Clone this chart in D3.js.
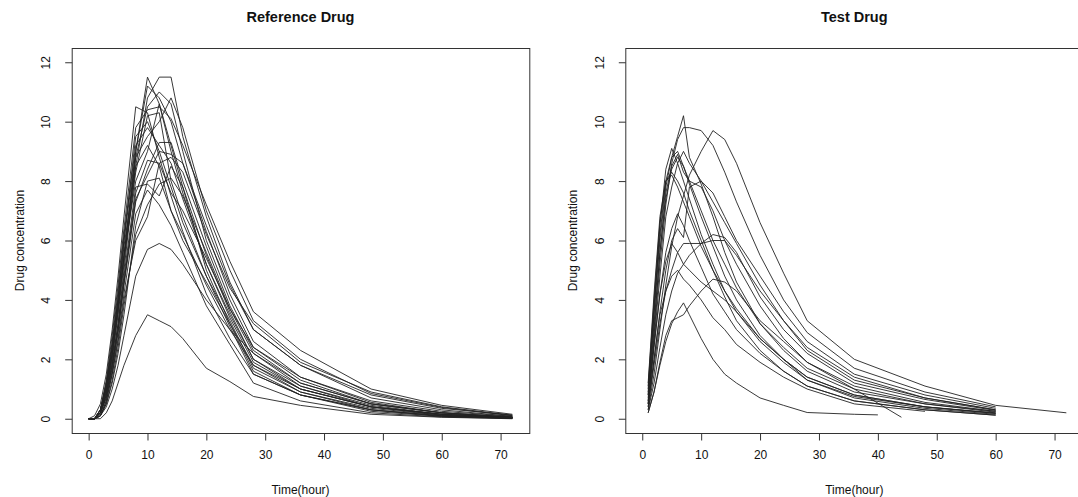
<!DOCTYPE html>
<html>
<head>
<meta charset="utf-8">
<script src="https://cdn.jsdelivr.net/npm/d3@7"></script>
<style>
  body { margin: 0; background: #fff; }
  text { font-family: "Liberation Sans", Arial, sans-serif; fill: #111; }
</style>
</head>
<body>
<script>
var width = 1078;
var height = 497;

// sampling times (hours)
var refTimes = [0, 1, 2, 3, 4, 5, 6, 8, 10, 12, 14, 16, 20, 24, 28, 36, 48, 60, 72];
var testTimes = [1, 2, 3, 4, 5, 6, 7, 8, 10, 12, 14, 16, 20, 24, 28, 36, 40, 44, 48, 60, 72];

var xTicks = [0, 10, 20, 30, 40, 50, 60, 70];
var yTicks = [0, 2, 4, 6, 8, 10, 12];

// concentrations per subject, Reference drug
var refConc = [
  [0, 0, 0.3, 1.0, 2.2, 3.8, 5.5, 9.0, 11.5, 10.6, 9.0, 7.6, 5.2, 3.5, 2.0, 1.1, 0.4, 0.15, 0.05],
  [0, 0, 0.2, 0.8, 1.8, 3.2, 5.0, 8.5, 10.8, 11.5, 11.5, 9.5, 6.8, 4.6, 3.0, 1.8, 0.8, 0.35, 0.12],
  [0, 0.1, 0.5, 1.5, 3.0, 4.8, 6.8, 10.5, 10.3, 8.8, 7.5, 6.3, 4.2, 2.7, 1.5, 0.8, 0.3, 0.1, 0.03],
  [0, 0, 0.1, 0.5, 1.2, 2.2, 3.5, 6.5, 8.0, 8.1, 7.0, 6.2, 4.5, 3.0, 1.8, 1.0, 0.4, 0.15, 0.05],
  [0, 0, 0, 0.2, 0.6, 1.2, 1.8, 2.8, 3.5, 3.3, 3.1, 2.7, 1.7, 1.25, 0.75, 0.45, 0.15, 0.05, 0.0],
  [0, 0, 0.2, 0.9, 2.0, 3.5, 5.2, 8.8, 10.5, 11.0, 10.6, 9.0, 6.0, 4.0, 2.4, 1.3, 0.5, 0.2, 0.05],
  [0, 0, 0.3, 1.2, 2.5, 4.0, 5.8, 8.5, 9.2, 8.5, 7.0, 6.0, 4.6, 3.2, 1.6, 0.8, 0.25, 0.08, 0.02],
  [0, 0, 0.1, 0.6, 1.5, 2.6, 4.0, 6.0, 6.8, 8.6, 8.8, 8.3, 6.2, 4.4, 3.2, 1.9, 0.9, 0.4, 0.12],
  [0, 0, 0.2, 0.7, 1.6, 2.9, 4.5, 7.3, 8.4, 9.3, 9.3, 8.0, 5.8, 3.8, 2.3, 1.2, 0.5, 0.2, 0.05],
  [0, 0, 0.3, 1.1, 2.4, 4.0, 6.0, 9.5, 10.0, 9.0, 7.8, 6.6, 4.8, 3.3, 1.7, 0.9, 0.35, 0.12, 0.03],
  [0, 0, 0.1, 0.4, 1.0, 1.8, 2.8, 4.8, 5.7, 5.9, 5.7, 5.2, 4.0, 3.0, 2.2, 1.2, 0.5, 0.2, 0.05],
  [0, 0, 0.2, 0.8, 1.9, 3.2, 4.8, 7.8, 7.9, 7.5, 8.5, 7.8, 5.5, 3.6, 2.0, 1.0, 0.4, 0.15, 0.04],
  [0, 0, 0.3, 1.0, 2.2, 3.8, 5.5, 8.0, 9.0, 10.6, 9.2, 7.8, 5.0, 3.2, 1.8, 0.9, 0.3, 0.1, 0.02],
  [0, 0, 0.2, 0.9, 2.1, 3.6, 5.4, 8.3, 10.2, 10.3, 8.0, 6.8, 4.8, 3.1, 1.5, 0.8, 0.3, 0.08, 0.02],
  [0, 0, 0.3, 1.3, 2.8, 4.5, 6.4, 9.8, 10.4, 10.5, 10.1, 9.2, 7.2, 5.3, 3.6, 2.3, 1.0, 0.45, 0.15],
  [0, 0, 0.1, 0.6, 1.5, 2.7, 4.2, 6.9, 7.7, 7.2, 6.5, 5.6, 3.8, 2.5, 1.2, 0.6, 0.2, 0.06, 0.01],
  [0, 0, 0.2, 0.8, 1.8, 3.0, 4.6, 7.4, 8.2, 9.0, 8.9, 8.6, 6.5, 4.5, 3.0, 1.8, 0.7, 0.3, 0.08],
  [0, 0, 0.3, 1.1, 2.4, 4.1, 6.0, 9.0, 11.2, 10.8, 10.0, 8.6, 6.3, 4.2, 2.6, 1.4, 0.55, 0.2, 0.05],
  [0, 0, 0.2, 0.7, 1.7, 3.0, 4.6, 7.6, 8.7, 8.6, 7.6, 7.0, 5.4, 3.7, 2.4, 1.4, 0.6, 0.25, 0.08],
  [0, 0, 0.2, 1.0, 2.2, 3.7, 5.5, 8.8, 9.5, 10.0, 10.8, 9.8, 7.0, 5.0, 3.3, 2.0, 0.85, 0.38, 0.1],
  [0, 0, 0.1, 0.5, 1.3, 2.4, 3.8, 6.2, 7.2, 7.9, 8.1, 7.5, 5.6, 3.7, 2.2, 1.1, 0.45, 0.15, 0.04],
  [0, 0, 0.3, 1.2, 2.6, 4.3, 6.2, 9.2, 9.8, 9.2, 8.6, 7.4, 5.2, 3.4, 1.9, 1.0, 0.4, 0.12, 0.03]
];

// concentrations per subject, Test drug (null = not sampled)
var testConc = [
  [0.8, 3.5, 6.0, 7.8, 8.8, 9.5, 10.2, 8.8, 7.9, 6.8, 5.6, 4.6, 3.2, 2.3, 1.6, 0.9, null, null, 0.5, 0.25, null],
  [0.5, 2.8, 5.2, 7.2, 8.6, 9.4, 9.8, 9.8, 9.7, 9.2, 8.3, 7.3, 5.5, 4.0, 2.9, 1.7, null, null, 0.9, 0.4, null],
  [0.3, 1.5, 3.0, 4.5, 5.8, 6.8, 7.5, 8.2, 9.0, 9.7, 9.4, 8.6, 6.6, 4.9, 3.3, 2.0, null, null, 1.1, 0.45, 0.2],
  [1.0, 3.8, 6.2, 8.0, 8.8, 9.0, 8.5, 7.9, 6.8, 5.8, 4.8, 4.0, 2.8, 2.0, 1.3, 0.7, null, null, 0.35, 0.15, null],
  [0.9, 3.6, 6.5, 8.4, 9.1, 8.6, 8.0, 7.4, 6.2, 5.2, 4.3, 3.6, 2.6, 1.9, 1.3, 0.75, null, null, 0.4, 0.2, null],
  [0.7, 3.0, 5.6, 7.6, 8.5, 8.9, 8.3, 8.0, 7.8, 7.0, 6.0, 5.2, 3.8, 2.7, 1.9, 1.1, null, null, 0.55, 0.25, null],
  [1.1, 4.0, 6.6, 8.0, 8.3, 8.0, 7.6, 7.0, 6.0, 5.0, 4.1, 3.3, 2.3, 1.6, 1.1, 0.6, null, null, 0.3, 0.12, null],
  [0.6, 2.6, 4.8, 6.8, 7.8, 8.6, 9.0, 8.6, 8.0, 7.3, 6.6, 5.9, 4.5, 3.3, 2.3, 1.3, null, null, 0.7, 0.3, null],
  [0.4, 1.8, 3.2, 4.3, 5.0, 5.6, 5.9, 5.9, 5.9, 6.0, 6.0, 5.5, 4.3, 3.3, 2.4, 1.4, null, null, 0.7, 0.3, null],
  [0.3, 1.2, 2.4, 3.5, 4.3, 4.9, 5.2, 5.5, 5.9, 6.2, 6.1, 5.6, 4.1, 3.0, 2.2, 1.2, null, null, 0.65, 0.28, null],
  [0.2, 0.9, 1.8, 2.6, 3.2, 3.6, 3.9, 3.5, 2.7, 2.0, 1.5, 1.2, 0.7, 0.45, 0.21, 0.15, 0.13, null, null, null, null],
  [0.2, 0.9, 1.9, 2.8, 3.3, 3.4, 3.5, 3.8, 4.3, 4.7, 4.6, 4.3, 3.3, 2.6, 1.9, 1.0, null, 0.05, null, null, null],
  [0.5, 2.0, 3.5, 4.3, 4.8, 5.0, 4.7, 4.5, 4.0, 3.4, 3.0, 2.5, 1.9, 1.4, 1.0, 0.5, null, null, 0.25, null, null],
  [0.6, 2.5, 4.2, 5.6, 6.4, 6.9, 6.5, 6.0, 5.1, 4.2, 3.6, 3.0, 2.2, 1.6, 1.1, 0.6, null, null, 0.3, 0.12, null],
  [0.5, 2.4, 4.2, 5.3, 5.9, 5.6, 5.2, 5.0, 4.6, 4.3, 4.0, 3.6, 2.7, 2.0, 1.4, 0.8, null, null, 0.4, 0.18, null],
  [1.2, 4.2, 6.8, 8.0, 8.2, 7.8, 7.3, 6.8, 5.8, 5.0, 4.3, 3.7, 2.7, 2.0, 1.4, 0.8, null, null, 0.4, 0.18, null],
  [0.4, 2.0, 3.6, 5.0, 6.0, 6.4, 6.1, 7.8, 8.0, 7.6, 6.8, 6.0, 4.8, 3.6, 2.6, 1.5, null, null, 0.8, 0.35, null],
  [0.8, 3.2, 5.6, 7.4, 8.4, 8.8, 8.5, 8.0, 7.0, 6.0, 5.2, 4.4, 3.2, 2.4, 1.7, 1.0, null, null, 0.5, 0.22, null]
];

var svg = d3.select("body").append("svg")
    .attr("width", width)
    .attr("height", height);

// plot region (R style: 4% padding on each side of xlim 0-72, ylim 0-12)
var plotTop = 48, plotBottom = 433;

function drawPanel(left, right, title, times, conc) {
    var x = d3.scaleLinear().domain([-2.88, 74.88]).range([left, right]);
    var y = d3.scaleLinear().domain([-0.48, 12.48]).range([plotBottom, plotTop]);

    var g = svg.append("g");

    var line = d3.line()
        .x(function(d) { return x(d.t); })
        .y(function(d) { return y(d.c); });

    conc.forEach(function(row) {
        var pts = [];
        row.forEach(function(c, i) {
            if (c != null) pts.push({t: times[i], c: c});
        });
        g.append("path")
            .attr("d", line(pts))
            .attr("fill", "none")
            .attr("stroke", "#222")
            .attr("stroke-width", 0.9);
    });

    // box
    g.append("rect")
        .attr("x", left + 0.5)
        .attr("y", plotTop + 0.5)
        .attr("width", right - left)
        .attr("height", plotBottom - plotTop)
        .attr("fill", "none")
        .attr("stroke", "#333");

    var xAxis = g.append("g")
        .attr("transform", "translate(0," + (plotBottom + 0.5) + ")")
        .call(d3.axisBottom(x).tickValues(xTicks).tickSize(7).tickPadding(10));
    xAxis.select(".domain").remove();

    var yAxis = g.append("g")
        .attr("transform", "translate(" + (left + 0.5) + ",0)")
        .call(d3.axisLeft(y).tickValues(yTicks).tickSize(7));
    yAxis.select(".domain").remove();
    yAxis.selectAll("text")
        .attr("transform", "rotate(-90)")
        .attr("x", 0)
        .attr("y", -22)
        .attr("dy", 0)
        .attr("text-anchor", "middle");

    g.selectAll(".tick line").attr("stroke", "#333");
    g.selectAll(".tick text")
        .style("font-size", "12px")
        .style("font-family", "'Liberation Sans', Arial, sans-serif")
        .attr("fill", "#111");

    // labels
    g.append("text")
        .attr("x", (left + right) / 2)
        .attr("y", 22)
        .attr("text-anchor", "middle")
        .style("font-size", "14.5px")
        .style("font-weight", "bold")
        .text(title);

    g.append("text")
        .attr("x", (left + right) / 2)
        .attr("y", 494)
        .attr("text-anchor", "middle")
        .style("font-size", "12px")
        .text("Time(hour)");

    g.append("text")
        .attr("transform", "translate(" + (left - 48) + "," + ((plotTop + plotBottom) / 2) + ") rotate(-90)")
        .attr("text-anchor", "middle")
        .style("font-size", "12px")
        .text("Drug concentration");
}

drawPanel(71.7, 529.3, "Reference Drug", refTimes, refConc);
drawPanel(625.3, 1083.3, "Test Drug", testTimes, testConc);
</script>
</body>
</html>
